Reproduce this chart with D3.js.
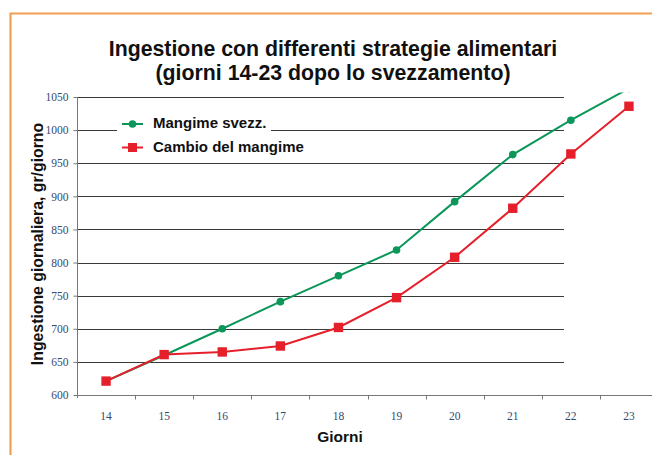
<!DOCTYPE html>
<html>
<head>
<meta charset="utf-8">
<script src="https://cdn.jsdelivr.net/npm/d3@7/dist/d3.min.js"></script>
<style>
  html, body { margin: 0; padding: 0; background: #fff; }
  svg { display: block; }
</style>
</head>
<body>
<div id="chart"></div>
<script>
// ---- data ----
const days = [14, 15, 16, 17, 18, 19, 20, 21, 22, 23];
const mangimeSvezz = [621, 660, 700, 741, 780, 819, 892, 963, 1015, 1063];
const cambioMangime = [621, 661, 665, 674, 702, 747, 808, 882, 964, 1036];
const yTicks = [600, 650, 700, 750, 800, 850, 900, 950, 1000, 1050];
const seriesNames = ["Mangime svezz.", "Cambio del mangime"];
const titleLines = ["Ingestione con differenti strategie alimentari", "(giorni 14-23 dopo lo svezzamento)"];
const xTitle = "Giorni";
const yTitle = "Ingestione giornaliera, gr/giorno";

// ---- layout ----
const W = 652, H = 455;
const plotLeft = 77, plotRight = 658, plotTop = 97, plotBottom = 395;
const gridRight = 564;
const green = "#0b965a", red = "#e5202b";
const tickColor = "#34496e";

const svg = d3.select("#chart").append("svg").attr("width", W).attr("height", H);

// orange frame
svg.append("path")
  .attr("d", `M10.5,${H + 5} L10.5,13.5 L${W + 5},13.5`)
  .attr("fill", "none").attr("stroke", "#f0a050").attr("stroke-width", 2.2);

const x = d3.scaleBand().domain(days).range([plotLeft, plotRight]).paddingInner(0).paddingOuter(0);
const y = d3.scaleLinear().domain([600, 1050]).range([plotBottom, plotTop]);
const cx = d => x(d) + x.bandwidth() / 2;

// gridlines
svg.append("g").selectAll("line").data(yTicks.filter(t => t > 600)).join("line")
  .attr("x1", plotLeft).attr("x2", gridRight)
  .attr("y1", d => Math.round(y(d)) + 0.5).attr("y2", d => Math.round(y(d)) + 0.5)
  .attr("stroke", "#3a3a3a").attr("stroke-width", 1.1);

// y axis
const yAxis = d3.axisLeft(y).tickValues(yTicks).tickFormat(d3.format("d")).tickSize(4).tickPadding(5);
const gy = svg.append("g").attr("transform", `translate(${plotLeft + 0.5},0)`).call(yAxis);
gy.select(".domain").attr("stroke", "#777").attr("d", `M0,${plotTop}V${plotBottom + 3}`);
gy.selectAll(".tick line").attr("stroke", "#777");
gy.selectAll(".tick text").attr("fill", tickColor)
  .style("font-family", "'Liberation Serif', serif").style("font-size", "11.5px");

// x axis
const gx = svg.append("g").attr("transform", `translate(0,${plotBottom + 0.5})`);
gx.append("line").attr("x1", plotLeft).attr("x2", plotRight).attr("stroke", "#777");
gx.selectAll("line.tk").data(days.slice(1)).join("line").attr("class", "tk")
  .attr("x1", d => Math.round(x(d)) + 0.5).attr("x2", d => Math.round(x(d)) + 0.5)
  .attr("y1", 0).attr("y2", 4).attr("stroke", "#777");
gx.selectAll("text").data(days).join("text")
  .attr("x", d => cx(d)).attr("y", 24).attr("text-anchor", "middle")
  .attr("fill", tickColor).style("font-family", "'Liberation Serif', serif").style("font-size", "11.5px")
  .text(d => d);

// clip for series
svg.append("clipPath").attr("id", "clip").append("rect")
  .attr("x", plotLeft).attr("y", plotTop - 4.6).attr("width", W).attr("height", plotBottom - plotTop + 10);

const line = d3.line().x((d, i) => cx(days[i])).y(d => y(d));
const series = svg.append("g").attr("clip-path", "url(#clip)");

series.append("path").datum(mangimeSvezz).attr("d", line)
  .attr("fill", "none").attr("stroke", green).attr("stroke-width", 2);
series.selectAll("circle").data(mangimeSvezz).join("circle")
  .attr("cx", (d, i) => cx(days[i])).attr("cy", d => y(d)).attr("r", 3.8).attr("fill", green);

series.append("path").datum(cambioMangime).attr("d", line)
  .attr("fill", "none").attr("stroke", red).attr("stroke-width", 2);
series.selectAll("rect").data(cambioMangime).join("rect")
  .attr("x", (d, i) => cx(days[i]) - 4.7).attr("y", d => y(d) - 4.7)
  .attr("width", 9.4).attr("height", 9.4).attr("fill", red);

// legend
const lg = svg.append("g");
lg.append("rect").attr("x", 117).attr("y", 108).attr("width", 154).attr("height", 50).attr("fill", "#fff");
const legY = [124, 147.5];
const legBase = [127.5, 151.5];
[green, red].forEach((c, i) => {
  lg.append("line").attr("x1", 122).attr("x2", 143).attr("y1", legY[i]).attr("y2", legY[i])
    .attr("stroke", c).attr("stroke-width", 2);
  if (i === 0) lg.append("circle").attr("cx", 132.5).attr("cy", legY[i]).attr("r", 3.8).attr("fill", c);
  else lg.append("rect").attr("x", 128).attr("y", legY[i] - 4.5).attr("width", 9).attr("height", 9).attr("fill", c);
  lg.append("text").attr("x", 153).attr("y", legBase[i])
    .style("font-family", "'Liberation Sans', Arial, sans-serif").style("font-weight", "bold").style("font-size", "15px")
    .attr("fill", "#111").text(seriesNames[i]);
});

// titles
const titleG = svg.append("g").style("font-family", "'Liberation Sans', Arial, sans-serif").style("font-weight", "bold");
titleG.selectAll("text").data(titleLines).join("text")
  .attr("x", 333).attr("y", (d, i) => 56 + i * 24).attr("text-anchor", "middle")
  .style("font-size", "21.3px").attr("fill", "#111").text(d => d);

svg.append("text").attr("x", 340).attr("y", 442).attr("text-anchor", "middle")
  .style("font-family", "'Liberation Sans', Arial, sans-serif").style("font-weight", "bold").style("font-size", "15.5px")
  .attr("fill", "#111").text(xTitle);

svg.append("text").attr("transform", "translate(42.5,244) rotate(-90)").attr("text-anchor", "middle")
  .style("font-family", "'Liberation Sans', Arial, sans-serif").style("font-weight", "bold").style("font-size", "15.8px")
  .attr("fill", "#111").text(yTitle);
</script>
</body>
</html>
